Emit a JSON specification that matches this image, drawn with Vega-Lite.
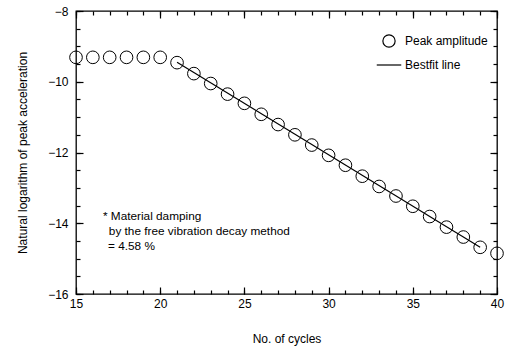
{
  "$schema": "https://vega.github.io/schema/vega-lite/v6.json",
  "autosize": {"type": "none"},
  "padding": {"left": 76, "top": 11, "right": 8, "bottom": 55},
  "width": 421,
  "height": 283,
  "config": {
    "font": "Liberation Sans",
    "view": {"stroke": "black", "strokeWidth": 1.3},
    "axis": {
      "grid": false, "domain": false, "tickColor": "black", "labelColor": "black",
      "titleColor": "black", "labelFontSize": 12, "titleFontSize": 12, "titleFontWeight": "normal",
      "tickWidth": 1.2
    }
  },
  "datasets": {
    "points": [
      {"c": 15, "v": -9.31, "s": "Peak amplitude"},
      {"c": 16, "v": -9.31, "s": "Peak amplitude"},
      {"c": 17, "v": -9.31, "s": "Peak amplitude"},
      {"c": 18, "v": -9.31, "s": "Peak amplitude"},
      {"c": 19, "v": -9.31, "s": "Peak amplitude"},
      {"c": 20, "v": -9.31, "s": "Peak amplitude"},
      {"c": 21, "v": -9.46, "s": "Peak amplitude"},
      {"c": 22, "v": -9.77, "s": "Peak amplitude"},
      {"c": 23, "v": -10.05, "s": "Peak amplitude"},
      {"c": 24, "v": -10.35, "s": "Peak amplitude"},
      {"c": 25, "v": -10.61, "s": "Peak amplitude"},
      {"c": 26, "v": -10.92, "s": "Peak amplitude"},
      {"c": 27, "v": -11.21, "s": "Peak amplitude"},
      {"c": 28, "v": -11.5, "s": "Peak amplitude"},
      {"c": 29, "v": -11.79, "s": "Peak amplitude"},
      {"c": 30, "v": -12.08, "s": "Peak amplitude"},
      {"c": 31, "v": -12.36, "s": "Peak amplitude"},
      {"c": 32, "v": -12.67, "s": "Peak amplitude"},
      {"c": 33, "v": -12.96, "s": "Peak amplitude"},
      {"c": 34, "v": -13.23, "s": "Peak amplitude"},
      {"c": 35, "v": -13.52, "s": "Peak amplitude"},
      {"c": 36, "v": -13.81, "s": "Peak amplitude"},
      {"c": 37, "v": -14.11, "s": "Peak amplitude"},
      {"c": 38, "v": -14.39, "s": "Peak amplitude"},
      {"c": 39, "v": -14.68, "s": "Peak amplitude"},
      {"c": 40, "v": -14.85, "s": "Peak amplitude"}
    ],
    "fit": [
      {"c": 21, "v": -9.45},
      {"c": 39, "v": -14.68}
    ],
    "note": [
      {"c": 16.6, "v": -13.79, "t": "* Material damping"},
      {"c": 16.95, "v": -14.22, "t": "by the free vibration decay method"},
      {"c": 16.9, "v": -14.63, "t": "= 4.58 %"}
    ]
  },
  "resolve": {"axis": {"x": "independent", "y": "independent"}},
  "layer": [
    {
      "data": {"name": "points"},
      "transform": [{"filter": "datum.c <= 20"}],
      "mark": {"type": "point", "filled": false, "stroke": "black", "strokeWidth": 1, "size": 160, "opacity": 1, "clip": false},
      "encoding": {
        "x": {"field": "c", "type": "quantitative",
          "scale": {"domain": [15, 40], "nice": false, "zero": false},
          "axis": {"orient": "bottom", "values": [15, 20, 25, 30, 35, 40], "tickSize": -7, "labelPadding": 11, "title": "No. of cycles", "titlePadding": 24, "labelFlush": false}},
        "y": {"field": "v", "type": "quantitative",
          "scale": {"domain": [-16, -8], "nice": false, "zero": false},
          "axis": {"orient": "left", "values": [-16, -14, -12, -10, -8], "tickSize": -7, "labelPadding": 15, "title": "Natural logarithm of peak acceleration", "titlePadding": 18}},
        "shape": {"field": "s", "type": "nominal",
          "scale": {"domain": ["Peak amplitude", "Bestfit line"], "range": ["circle", "M-2,0H2"]},
          "legend": {
            "title": null, "orient": "none", "legendX": 306, "legendY": 23,
            "labelFontSize": 12, "labelColor": "black", "labelOffset": 9,
            "symbolStrokeColor": "black", "symbolFillColor": "transparent", "symbolStrokeWidth": 1.2,
            "symbolSize": 150, "rowPadding": 8
          }}
      }
    },
    {
      "data": {"name": "points"},
      "transform": [{"filter": "datum.c > 20"}],
      "mark": {"type": "point", "filled": false, "stroke": "black", "strokeWidth": 1, "size": 160, "opacity": 1, "clip": false},
      "encoding": {
        "x": {"field": "c", "type": "quantitative",
          "axis": {"orient": "bottom", "values": [15,16,17,18,19,20,21,22,23,24,25,26,27,28,29,30,31,32,33,34,35,36,37,38,39,40], "tickSize": -4, "labels": false, "title": null}},
        "y": {"field": "v", "type": "quantitative",
          "axis": {"orient": "left", "values": [-16,-15.5,-15,-14.5,-14,-13.5,-13,-12.5,-12,-11.5,-11,-10.5,-10,-9.5,-9,-8.5,-8], "tickSize": -4, "labels": false, "title": null}},
        "shape": {"field": "s", "type": "nominal"}
      }
    },
    {
      "data": {"name": "fit"},
      "mark": {"type": "line", "color": "black", "strokeWidth": 1.2},
      "encoding": {
        "x": {"field": "c", "type": "quantitative",
          "axis": {"orient": "top", "values": [15, 20, 25, 30, 35, 40], "tickSize": -7, "labels": false, "title": null}},
        "y": {"field": "v", "type": "quantitative",
          "axis": {"orient": "right", "values": [-16, -14, -12, -10, -8], "tickSize": -7, "labels": false, "title": null}}
      }
    },
    {
      "data": {"name": "note"},
      "mark": {"type": "text", "align": "left", "baseline": "middle", "fontSize": 11.8, "color": "black"},
      "encoding": {
        "x": {"field": "c", "type": "quantitative",
          "axis": {"orient": "top", "values": [15,16,17,18,19,20,21,22,23,24,25,26,27,28,29,30,31,32,33,34,35,36,37,38,39,40], "tickSize": -4, "labels": false, "title": null}},
        "y": {"field": "v", "type": "quantitative",
          "axis": {"orient": "right", "values": [-16,-15.5,-15,-14.5,-14,-13.5,-13,-12.5,-12,-11.5,-11,-10.5,-10,-9.5,-9,-8.5,-8], "tickSize": -4, "labels": false, "title": null}},
        "text": {"field": "t"}
      }
    }
  ]
}
